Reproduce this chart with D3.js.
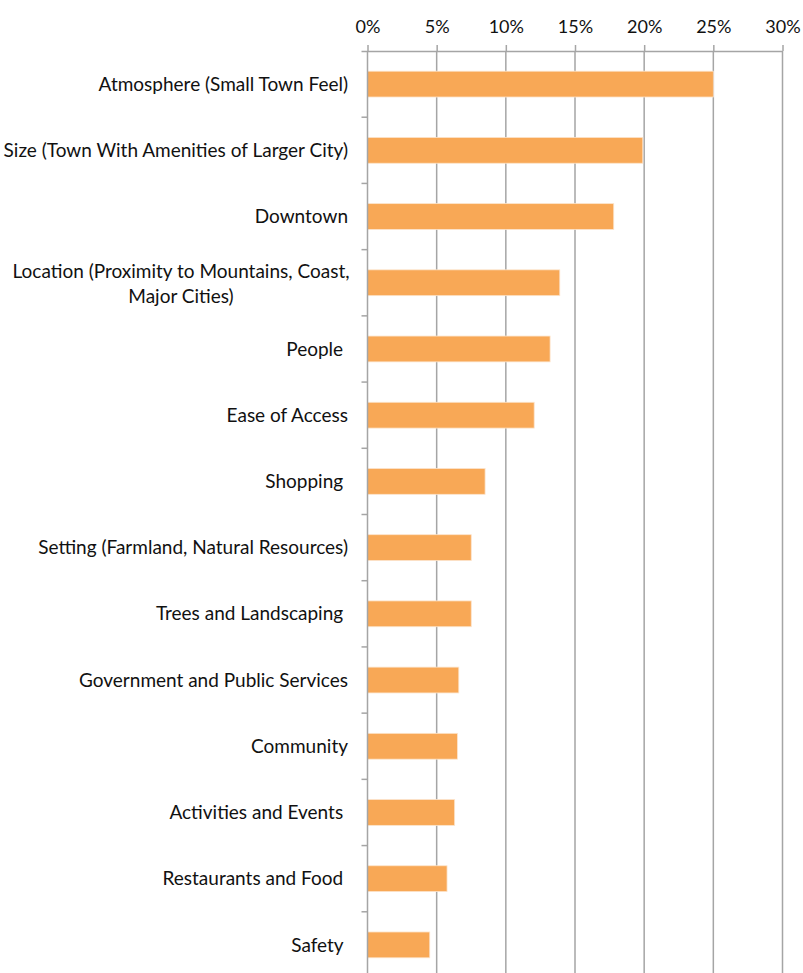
<!DOCTYPE html>
<html><head><meta charset="utf-8">
<script src="https://cdn.jsdelivr.net/npm/d3@7"></script>
<style>body{margin:0;background:#fff}svg{display:block}text{font-family:Lato,"Open Sans",sans-serif;fill:#111}</style>
</head><body><svg id="c" width="803" height="973"></svg>
<script>
const categories = [
  ["Atmosphere (Small Town Feel)"],
  ["Size (Town With Amenities of Larger City)"],
  ["Downtown"],
  ["Location (Proximity to Mountains, Coast,", "Major Cities)"],
  ["People "],
  ["Ease of Access"],
  ["Shopping "],
  ["Setting (Farmland, Natural Resources)"],
  ["Trees and Landscaping "],
  ["Government and Public Services"],
  ["Community"],
  ["Activities and Events "],
  ["Restaurants and Food "],
  ["Safety "]
];
const values = [25.0, 19.9, 17.8, 13.9, 13.2, 12.05, 8.5, 7.5, 7.5, 6.6, 6.5, 6.3, 5.75, 4.5];
const tickValues = [0, 5, 10, 15, 20, 25, 30];

(function () {
const svg = d3.select("#c");
const mLeft = 367.5, mRight = 782.5, mTop = 51, mBottom = 978;
const keys = categories.map((c, i) => i);
const x = d3.scaleLinear().domain([0, 30]).range([mLeft, mRight]);
const y = d3.scaleBand().domain(keys).range([mTop, mBottom]).paddingInner(0.61).paddingOuter(0.305);
const step = y.step();

// gridlines
svg.append("g").selectAll("line").data(tickValues.slice(1)).join("line")
  .attr("x1", d => x(d)).attr("x2", d => x(d)).attr("y1", mTop).attr("y2", 973)
  .attr("stroke", "#A5A5A5").attr("stroke-width", 1.5);

// bars
svg.append("g").selectAll("rect").data(values).join("rect")
  .attr("x", x(0)).attr("y", (d, i) => y(i))
  .attr("width", d => x(d) - x(0)).attr("height", y.bandwidth())
  .attr("fill", "#F8A856").attr("stroke", "#FCE4CC").attr("stroke-width", 0.8);

// top axis
const xa = svg.append("g").attr("transform", `translate(0,${mTop})`)
  .call(d3.axisTop(x).tickValues(tickValues).tickFormat(d => d + "%").tickSize(6).tickPadding(12).tickSizeOuter(0));
xa.select(".domain").attr("stroke", "#A5A5A5").attr("stroke-width", 1.5).attr("d", `M${mLeft - 6},0.5H${mRight}`);
xa.selectAll(".tick line").attr("stroke", "#A5A5A5").attr("stroke-width", 1.5);
xa.selectAll(".tick text").attr("font-size", 18).attr("fill", "#111").style("font-family", "Lato");

// y axis line and ticks
svg.append("line").attr("x1", mLeft).attr("x2", mLeft).attr("y1", mTop).attr("y2", 973)
  .attr("stroke", "#A5A5A5").attr("stroke-width", 1.5);
svg.append("g").selectAll("line").data(keys.slice(1)).join("line")
  .attr("x1", mLeft - 6).attr("x2", mLeft).attr("y1", d => y(d) - step * y.paddingInner() / 2).attr("y2", d => y(d) - step * y.paddingInner() / 2)
  .attr("stroke", "#A5A5A5").attr("stroke-width", 1.5);

// category labels
const lab = svg.append("g");
categories.forEach((lines, i) => {
  const cy = y(i) + y.bandwidth() / 2;
  if (lines.length === 1) {
    lab.append("text").attr("x", 348).attr("y", cy).attr("dy", "0.35em")
      .attr("text-anchor", "end").attr("font-size", 19).style("white-space", "pre").text(lines[0]);
  } else {
    lines.forEach((t, j) => {
      lab.append("text").attr("x", 181).attr("y", cy + 1 + (j - 0.5) * 25).attr("dy", "0.35em")
        .attr("text-anchor", "middle").attr("font-size", 19).style("white-space", "pre").text(t);
    });
  }
});
})();
</script></body></html>
